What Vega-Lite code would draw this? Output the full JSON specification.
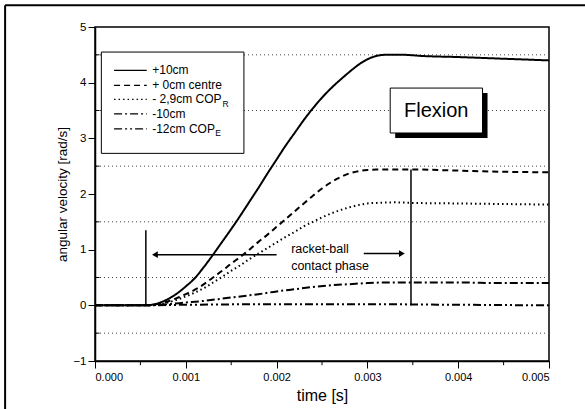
{
  "$schema": "https://vega.github.io/schema/vega-lite/v6.json",
  "width": 454,
  "height": 334,
  "autosize": {"type": "none"},
  "padding": {"left": 95, "top": 27, "right": 36, "bottom": 48},
  "background": "white",
  "config": {
    "view": {"stroke": "black", "strokeWidth": 1.5},
    "font": "Liberation Sans",
    "axis": {"labelColor": "black", "titleColor": "black", "domainColor": "black", "tickColor": "black", "titleFontWeight": "normal", "grid": false}
  },
  "datasets": {
    "curves": [
      {"s": "+10cm", "t": 0, "v": 0}, {"s": "+10cm", "t": 0.00055, "v": 0}, {"s": "+10cm", "t": 0.0007, "v": 0.04}, {"s": "+10cm", "t": 0.0008, "v": 0.11}, {"s": "+10cm", "t": 0.0009, "v": 0.21}, {"s": "+10cm", "t": 0.001, "v": 0.34}, {"s": "+10cm", "t": 0.0011, "v": 0.49}, {"s": "+10cm", "t": 0.0012, "v": 0.69}, {"s": "+10cm", "t": 0.0013, "v": 0.91}, {"s": "+10cm", "t": 0.0014, "v": 1.14}, {"s": "+10cm", "t": 0.0015, "v": 1.37}, {"s": "+10cm", "t": 0.0016, "v": 1.61}, {"s": "+10cm", "t": 0.0017, "v": 1.86}, {"s": "+10cm", "t": 0.0018, "v": 2.11}, {"s": "+10cm", "t": 0.0019, "v": 2.37}, {"s": "+10cm", "t": 0.002, "v": 2.62}, {"s": "+10cm", "t": 0.0021, "v": 2.87}, {"s": "+10cm", "t": 0.0022, "v": 3.1}, {"s": "+10cm", "t": 0.0023, "v": 3.33}, {"s": "+10cm", "t": 0.0024, "v": 3.54}, {"s": "+10cm", "t": 0.0025, "v": 3.73}, {"s": "+10cm", "t": 0.0026, "v": 3.9}, {"s": "+10cm", "t": 0.0027, "v": 4.05}, {"s": "+10cm", "t": 0.0028, "v": 4.19}, {"s": "+10cm", "t": 0.0029, "v": 4.32}, {"s": "+10cm", "t": 0.003, "v": 4.42}, {"s": "+10cm", "t": 0.0031, "v": 4.48}, {"s": "+10cm", "t": 0.0032, "v": 4.5}, {"s": "+10cm", "t": 0.0034, "v": 4.5}, {"s": "+10cm", "t": 0.0036, "v": 4.48}, {"s": "+10cm", "t": 0.004, "v": 4.46}, {"s": "+10cm", "t": 0.0045, "v": 4.43}, {"s": "+10cm", "t": 0.005, "v": 4.4},
      {"s": "+0cm centre", "t": 0, "v": 0}, {"s": "+0cm centre", "t": 0.00055, "v": 0}, {"s": "+0cm centre", "t": 0.0007, "v": 0.03}, {"s": "+0cm centre", "t": 0.0008, "v": 0.07}, {"s": "+0cm centre", "t": 0.0009, "v": 0.13}, {"s": "+0cm centre", "t": 0.001, "v": 0.2}, {"s": "+0cm centre", "t": 0.0011, "v": 0.28}, {"s": "+0cm centre", "t": 0.0012, "v": 0.38}, {"s": "+0cm centre", "t": 0.0013, "v": 0.5}, {"s": "+0cm centre", "t": 0.0014, "v": 0.62}, {"s": "+0cm centre", "t": 0.0015, "v": 0.75}, {"s": "+0cm centre", "t": 0.0016, "v": 0.87}, {"s": "+0cm centre", "t": 0.0017, "v": 1.0}, {"s": "+0cm centre", "t": 0.0018, "v": 1.14}, {"s": "+0cm centre", "t": 0.0019, "v": 1.27}, {"s": "+0cm centre", "t": 0.002, "v": 1.41}, {"s": "+0cm centre", "t": 0.0021, "v": 1.55}, {"s": "+0cm centre", "t": 0.0022, "v": 1.69}, {"s": "+0cm centre", "t": 0.0023, "v": 1.83}, {"s": "+0cm centre", "t": 0.0024, "v": 1.97}, {"s": "+0cm centre", "t": 0.0025, "v": 2.1}, {"s": "+0cm centre", "t": 0.0026, "v": 2.21}, {"s": "+0cm centre", "t": 0.0027, "v": 2.3}, {"s": "+0cm centre", "t": 0.0028, "v": 2.37}, {"s": "+0cm centre", "t": 0.0029, "v": 2.41}, {"s": "+0cm centre", "t": 0.003, "v": 2.43}, {"s": "+0cm centre", "t": 0.0031, "v": 2.44}, {"s": "+0cm centre", "t": 0.0035, "v": 2.44}, {"s": "+0cm centre", "t": 0.004, "v": 2.42}, {"s": "+0cm centre", "t": 0.0045, "v": 2.4}, {"s": "+0cm centre", "t": 0.005, "v": 2.39},
      {"s": "-2.9cm COPR", "t": 0, "v": 0}, {"s": "-2.9cm COPR", "t": 0.00055, "v": 0}, {"s": "-2.9cm COPR", "t": 0.0007, "v": 0.02}, {"s": "-2.9cm COPR", "t": 0.0008, "v": 0.05}, {"s": "-2.9cm COPR", "t": 0.0009, "v": 0.1}, {"s": "-2.9cm COPR", "t": 0.001, "v": 0.16}, {"s": "-2.9cm COPR", "t": 0.0011, "v": 0.23}, {"s": "-2.9cm COPR", "t": 0.0012, "v": 0.31}, {"s": "-2.9cm COPR", "t": 0.0013, "v": 0.41}, {"s": "-2.9cm COPR", "t": 0.0014, "v": 0.51}, {"s": "-2.9cm COPR", "t": 0.0015, "v": 0.62}, {"s": "-2.9cm COPR", "t": 0.0016, "v": 0.72}, {"s": "-2.9cm COPR", "t": 0.0017, "v": 0.83}, {"s": "-2.9cm COPR", "t": 0.0018, "v": 0.93}, {"s": "-2.9cm COPR", "t": 0.0019, "v": 1.03}, {"s": "-2.9cm COPR", "t": 0.002, "v": 1.13}, {"s": "-2.9cm COPR", "t": 0.0021, "v": 1.23}, {"s": "-2.9cm COPR", "t": 0.0022, "v": 1.32}, {"s": "-2.9cm COPR", "t": 0.0023, "v": 1.42}, {"s": "-2.9cm COPR", "t": 0.0024, "v": 1.5}, {"s": "-2.9cm COPR", "t": 0.0025, "v": 1.58}, {"s": "-2.9cm COPR", "t": 0.0026, "v": 1.65}, {"s": "-2.9cm COPR", "t": 0.0027, "v": 1.71}, {"s": "-2.9cm COPR", "t": 0.0028, "v": 1.76}, {"s": "-2.9cm COPR", "t": 0.0029, "v": 1.8}, {"s": "-2.9cm COPR", "t": 0.003, "v": 1.83}, {"s": "-2.9cm COPR", "t": 0.0031, "v": 1.84}, {"s": "-2.9cm COPR", "t": 0.0033, "v": 1.85}, {"s": "-2.9cm COPR", "t": 0.0035, "v": 1.84}, {"s": "-2.9cm COPR", "t": 0.004, "v": 1.83}, {"s": "-2.9cm COPR", "t": 0.0045, "v": 1.82}, {"s": "-2.9cm COPR", "t": 0.005, "v": 1.81},
      {"s": "-10cm", "t": 0, "v": 0}, {"s": "-10cm", "t": 0.00055, "v": 0}, {"s": "-10cm", "t": 0.0008, "v": 0.02}, {"s": "-10cm", "t": 0.001, "v": 0.05}, {"s": "-10cm", "t": 0.0012, "v": 0.08}, {"s": "-10cm", "t": 0.0014, "v": 0.12}, {"s": "-10cm", "t": 0.0016, "v": 0.16}, {"s": "-10cm", "t": 0.0018, "v": 0.2}, {"s": "-10cm", "t": 0.002, "v": 0.25}, {"s": "-10cm", "t": 0.0022, "v": 0.29}, {"s": "-10cm", "t": 0.0024, "v": 0.33}, {"s": "-10cm", "t": 0.0026, "v": 0.36}, {"s": "-10cm", "t": 0.0028, "v": 0.38}, {"s": "-10cm", "t": 0.003, "v": 0.4}, {"s": "-10cm", "t": 0.0032, "v": 0.41}, {"s": "-10cm", "t": 0.0035, "v": 0.41}, {"s": "-10cm", "t": 0.004, "v": 0.41}, {"s": "-10cm", "t": 0.0045, "v": 0.4}, {"s": "-10cm", "t": 0.005, "v": 0.4},
      {"s": "-12cm COPE", "t": 0, "v": 0}, {"s": "-12cm COPE", "t": 0.00055, "v": 0}, {"s": "-12cm COPE", "t": 0.001, "v": 0.01}, {"s": "-12cm COPE", "t": 0.002, "v": 0.02}, {"s": "-12cm COPE", "t": 0.003, "v": 0.02}, {"s": "-12cm COPE", "t": 0.004, "v": 0.01}, {"s": "-12cm COPE", "t": 0.005, "v": 0.0}
    ],
    "legendRows": [
      {"s": "+10cm", "t": 0.00021, "t2": 0.00057, "tl": 0.00063, "v": 4.22, "label": "+10cm"},
      {"s": "+0cm centre", "t": 0.00021, "t2": 0.00057, "tl": 0.00063, "v": 3.95, "label": "+ 0cm centre"},
      {"s": "-2.9cm COPR", "t": 0.00021, "t2": 0.00057, "tl": 0.00063, "v": 3.7, "label": "- 2,9cm COP"},
      {"s": "-10cm", "t": 0.00021, "t2": 0.00057, "tl": 0.00063, "v": 3.44, "label": "-10cm"},
      {"s": "-12cm COPE", "t": 0.00021, "t2": 0.00057, "tl": 0.00063, "v": 3.17, "label": "-12cm COP"}
    ]
  },
  "layer": [
    {
      "data": {"values": [{"v": 4.5}, {"v": 3.5}, {"v": 2.5}, {"v": 1.5}, {"v": 0.5}, {"v": -0.5}]},
      "mark": {"type": "rule", "color": "#444444", "strokeWidth": 1, "strokeDash": [1, 3]},
      "encoding": {
        "y": {
          "field": "v", "type": "quantitative",
          "scale": {"domain": [-1, 5], "nice": false, "zero": false},
          "axis": {"values": [-1, 0, 1, 2, 3, 4, 5], "format": "d", "tickSize": 7, "labelFontSize": 11.5, "labelPadding": 2, "domainWidth": 1.5, "title": "angular velocity [rad/s]", "titleFontSize": 13.5, "titlePadding": 3}
        }
      }
    },
    {
      "data": {"values": [{"t": 0, "t2": 0.00005, "v": 4.5}, {"t": 0, "t2": 0.00005, "v": 3.5}, {"t": 0, "t2": 0.00005, "v": 2.5}, {"t": 0, "t2": 0.00005, "v": 1.5}, {"t": 0, "t2": 0.00005, "v": 0.5}, {"t": 0, "t2": 0.00005, "v": -0.5}]},
      "mark": {"type": "rule", "color": "black", "strokeWidth": 1},
      "encoding": {
        "x": {"field": "t", "type": "quantitative", "scale": {"domain": [0, 0.005], "nice": false, "zero": false},
          "axis": {"values": [0, 0.001, 0.002, 0.003, 0.004, 0.005], "format": ".3f", "tickSize": 7, "labelFontSize": 11, "labelPadding": 3, "domainWidth": 1.5, "title": "time [s]", "titleFontSize": 16, "titlePadding": 5}},
        "x2": {"field": "t2"},
        "y": {"field": "v", "type": "quantitative"}
      }
    },
    {
      "data": {"values": [{"t": 0.0005, "v": -1, "v2": -1.075}, {"t": 0.0015, "v": -1, "v2": -1.075}, {"t": 0.0025, "v": -1, "v2": -1.075}, {"t": 0.0035, "v": -1, "v2": -1.075}, {"t": 0.0045, "v": -1, "v2": -1.075}]},
      "mark": {"type": "rule", "color": "black", "strokeWidth": 1},
      "encoding": {
        "x": {"field": "t", "type": "quantitative"},
        "y": {"field": "v", "type": "quantitative"},
        "y2": {"field": "v2"}
      }
    },
    {
      "data": {"values": [{"t": -0.00099, "v": -1.9, "v2": 5.39}]},
      "mark": {"type": "rule", "color": "black", "strokeWidth": 2},
      "encoding": {
        "x": {"field": "t", "type": "quantitative"},
        "y": {"field": "v", "type": "quantitative"},
        "y2": {"field": "v2"}
      }
    },
    {
      "data": {"values": [{"t": -0.00099, "t2": 0.0055, "v": 5.39}]},
      "mark": {"type": "rule", "color": "black", "strokeWidth": 2},
      "encoding": {
        "x": {"field": "t", "type": "quantitative"},
        "x2": {"field": "t2"},
        "y": {"field": "v", "type": "quantitative"}
      }
    },
    {
      "data": {"values": [{"t": 0.00007, "t2": 0.00164, "v": 4.55, "v2": 2.73}]},
      "mark": {"type": "rect", "fill": "white", "stroke": "black", "strokeWidth": 1},
      "encoding": {
        "x": {"field": "t", "type": "quantitative"},
        "x2": {"field": "t2"},
        "y": {"field": "v", "type": "quantitative"},
        "y2": {"field": "v2"}
      }
    },
    {
      "data": {"values": [{"t": 0.003306, "t2": 0.004323, "v": 3.813, "v2": 3.006}]},
      "mark": {"type": "rect", "fill": "black"},
      "encoding": {
        "x": {"field": "t", "type": "quantitative"},
        "x2": {"field": "t2"},
        "y": {"field": "v", "type": "quantitative"},
        "y2": {"field": "v2"}
      }
    },
    {
      "data": {"values": [{"t": 0.003251, "t2": 0.004268, "v": 3.903, "v2": 3.096}]},
      "mark": {"type": "rect", "fill": "white", "stroke": "black", "strokeWidth": 1},
      "encoding": {
        "x": {"field": "t", "type": "quantitative"},
        "x2": {"field": "t2"},
        "y": {"field": "v", "type": "quantitative"},
        "y2": {"field": "v2"}
      }
    },
    {
      "data": {"values": [{"t": 0.003758, "v": 3.5, "label": "Flexion"}]},
      "mark": {"type": "text", "fontSize": 20, "align": "center", "baseline": "middle", "color": "black"},
      "encoding": {
        "x": {"field": "t", "type": "quantitative"},
        "y": {"field": "v", "type": "quantitative"},
        "text": {"field": "label"}
      }
    },
    {
      "data": {"name": "curves"},
      "mark": {"type": "line", "color": "black", "interpolate": "monotone"},
      "encoding": {
        "x": {"field": "t", "type": "quantitative"},
        "y": {"field": "v", "type": "quantitative"},
        "detail": {"field": "s"},
        "strokeDash": {"field": "s", "type": "nominal", "legend": null,
          "scale": {"domain": ["+10cm", "+0cm centre", "-2.9cm COPR", "-10cm", "-12cm COPE"], "range": [[1, 0], [6, 4], [1.5, 3], [8, 3, 2, 3], [8, 3, 2, 3, 2, 3]]}},
        "strokeWidth": {"field": "s", "type": "ordinal", "legend": null,
          "scale": {"domain": ["+10cm", "+0cm centre", "-2.9cm COPR", "-10cm", "-12cm COPE"], "range": [2, 2, 1.8, 1.3, 1.2]}}
      }
    },
    {
      "data": {"name": "legendRows"},
      "mark": {"type": "rule", "color": "black", "strokeWidth": 1.2},
      "encoding": {
        "x": {"field": "t", "type": "quantitative"},
        "x2": {"field": "t2"},
        "y": {"field": "v", "type": "quantitative"},
        "strokeDash": {"field": "s", "type": "nominal", "legend": null}
      }
    },
    {
      "data": {"name": "legendRows"},
      "mark": {"type": "text", "fontSize": 12, "align": "left", "baseline": "middle", "color": "black"},
      "encoding": {
        "x": {"field": "tl", "type": "quantitative"},
        "y": {"field": "v", "type": "quantitative"},
        "text": {"field": "label"}
      }
    },
    {
      "data": {"values": [{"t": 0.001405, "v": 3.62, "label": "R"}, {"t": 0.001325, "v": 3.09, "label": "E"}]},
      "mark": {"type": "text", "fontSize": 8.5, "align": "left", "baseline": "middle", "color": "black"},
      "encoding": {
        "x": {"field": "t", "type": "quantitative"},
        "y": {"field": "v", "type": "quantitative"},
        "text": {"field": "label"}
      }
    },
    {
      "data": {"values": [{"t": 0.00056, "v": 0, "v2": 1.35}, {"t": 0.00348, "v": 0, "v2": 2.44}]},
      "mark": {"type": "rule", "color": "black", "strokeWidth": 1.5},
      "encoding": {
        "x": {"field": "t", "type": "quantitative"},
        "y": {"field": "v", "type": "quantitative"},
        "y2": {"field": "v2"}
      }
    },
    {
      "data": {"values": [{"t": 0.00068, "t2": 0.002, "v": 0.91}, {"t": 0.00296, "t2": 0.00336, "v": 0.93}]},
      "mark": {"type": "rule", "color": "black", "strokeWidth": 1.5},
      "encoding": {
        "x": {"field": "t", "type": "quantitative"},
        "x2": {"field": "t2"},
        "y": {"field": "v", "type": "quantitative"}
      }
    },
    {
      "data": {"values": [{"t": 0.00066, "v": 0.91, "dir": "triangle-left"}, {"t": 0.00338, "v": 0.93, "dir": "triangle-right"}]},
      "mark": {"type": "point", "filled": true, "color": "black", "size": 45, "opacity": 1},
      "encoding": {
        "x": {"field": "t", "type": "quantitative"},
        "y": {"field": "v", "type": "quantitative"},
        "shape": {"field": "dir", "type": "nominal", "legend": null, "scale": {"domain": ["triangle-left", "triangle-right"], "range": ["triangle-left", "triangle-right"]}}
      }
    },
    {
      "data": {"values": [{"t": 0.00216, "v": 1.02, "label": "racket-ball"}, {"t": 0.00216, "v": 0.71, "label": "contact phase"}]},
      "mark": {"type": "text", "fontSize": 12.5, "align": "left", "baseline": "middle", "color": "black"},
      "encoding": {
        "x": {"field": "t", "type": "quantitative"},
        "y": {"field": "v", "type": "quantitative"},
        "text": {"field": "label"}
      }
    }
  ]
}
